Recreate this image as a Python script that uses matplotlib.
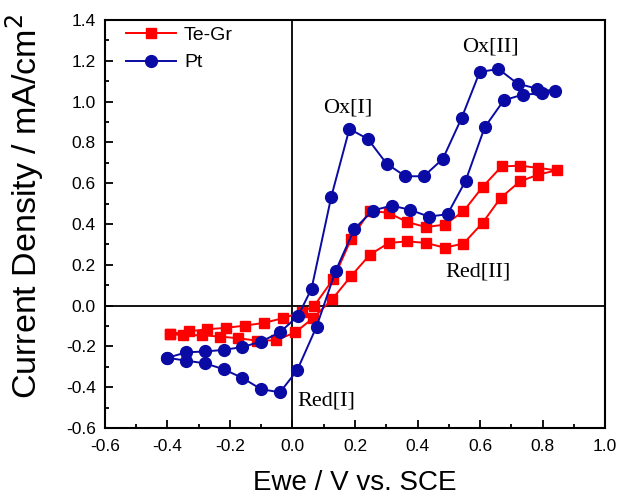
import numpy as np
import matplotlib.pyplot as plt

plt.rcParams["font.family"] = ["Liberation Sans", "DejaVu Sans"]

# Te-Gr (red squares): forward sweep then return sweep, closed loop
tegr_x = [-0.393, -0.332, -0.273, -0.212, -0.152, -0.092, -0.031, 0.029, 0.070, 0.131,
          0.187, 0.248, 0.308, 0.368, 0.427, 0.487, 0.547, 0.608, 0.669, 0.728, 0.786, 0.845,
          0.786, 0.728, 0.666, 0.608, 0.547, 0.487, 0.427, 0.368, 0.308, 0.248, 0.187, 0.128,
          0.067, 0.009, -0.053, -0.113, -0.173, -0.233, -0.290, -0.351, -0.393]
tegr_y = [-0.139, -0.126, -0.116, -0.109, -0.098, -0.085, -0.062, -0.033, 0.000, 0.131,
          0.324, 0.466, 0.454, 0.409, 0.385, 0.397, 0.462, 0.581, 0.682, 0.686, 0.675, 0.663,
          0.642, 0.609, 0.528, 0.405, 0.304, 0.284, 0.307, 0.315, 0.307, 0.250, 0.144, 0.033,
          -0.060, -0.131, -0.170, -0.172, -0.160, -0.152, -0.145, -0.145, -0.139]

# Pt (blue circles)
pt_x = [-0.400, -0.340, -0.280, -0.220, -0.160, -0.100, -0.040, 0.018, 0.061, 0.124,
        0.182, 0.241, 0.301, 0.361, 0.420, 0.481, 0.541, 0.599, 0.659, 0.720, 0.781, 0.839,
        0.797, 0.736, 0.676, 0.615, 0.554, 0.496, 0.436, 0.376, 0.317, 0.257, 0.198, 0.138,
        0.077, 0.015, -0.040, -0.100, -0.160, -0.220, -0.280, -0.340, -0.400]
pt_y = [-0.256, -0.229, -0.225, -0.217, -0.203, -0.176, -0.131, -0.050, 0.083, 0.533,
        0.866, 0.817, 0.696, 0.634, 0.634, 0.719, 0.919, 1.145, 1.160, 1.088, 1.064, 1.050,
        1.040, 1.034, 1.006, 0.874, 0.612, 0.448, 0.436, 0.470, 0.490, 0.466, 0.376, 0.170,
        -0.103, -0.317, -0.425, -0.410, -0.355, -0.312, -0.283, -0.270, -0.256]

labels = ["Ox[I]", "Ox[II]", "Red[I]", "Red[II]"]
label_pos = [(0.178, 0.97), (0.632, 1.27), (0.108, -0.47), (0.593, 0.165)]

fig = plt.figure(figsize=(6.19, 4.96), dpi=100)
ax = fig.add_axes([0.1696, 0.1371, 0.8078, 0.8226])

ax.axhline(0, color='black', linewidth=1.3, zorder=1)
ax.axvline(0, color='black', linewidth=1.3, zorder=1)

ax.plot(tegr_x, tegr_y, color='#ff0000', marker='s', markersize=6.5, linewidth=1.4,
        label='Te-Gr', zorder=3)
ax.plot(pt_x, pt_y, color='#0a0aa4', marker='o', markersize=8.5, linewidth=1.4,
        label='Pt', zorder=3)

for txt, (lx, ly) in zip(labels, label_pos):
    ax.text(lx, ly, txt, fontsize=16, family='Liberation Serif', ha='center', va='center')

ax.set_xlim(-0.6, 1.0)
ax.set_ylim(-0.6, 1.4)
ax.set_xticks(np.arange(-0.6, 1.01, 0.2))
ax.set_yticks(np.arange(-0.6, 1.41, 0.2))
ax.set_xticks(np.arange(-0.5, 1.0, 0.2), minor=True)
ax.set_yticks(np.arange(-0.5, 1.4, 0.2), minor=True)
ax.xaxis.set_major_formatter(plt.FormatStrFormatter('%.1f'))
ax.yaxis.set_major_formatter(plt.FormatStrFormatter('%.1f'))
ax.tick_params(which='major', direction='in', length=6, width=1.3, labelsize=12.5)
ax.tick_params(axis='x', which='major', pad=8)
ax.tick_params(axis='y', which='major', pad=6.5)
ax.tick_params(which='minor', direction='in', length=3.2, width=1.3)
for s in ax.spines.values():
    s.set_linewidth(1.5)

fig.text(355 / 619, 0.013, 'Ewe / V vs. SCE', fontsize=20, ha='center', va='baseline')
fig.text(25 / 619, 1 - 206 / 496, 'Current Density / mA/cm$^2$', fontsize=24.5,
         rotation=90, ha='center', va='center')

ax.legend(loc='upper left', bbox_to_anchor=(0.026, 1.003), frameon=False, fontsize=14,
          handlelength=2.6, handletextpad=0.4, borderaxespad=0, labelspacing=0.5)

plt.savefig('out.png', dpi=100)
